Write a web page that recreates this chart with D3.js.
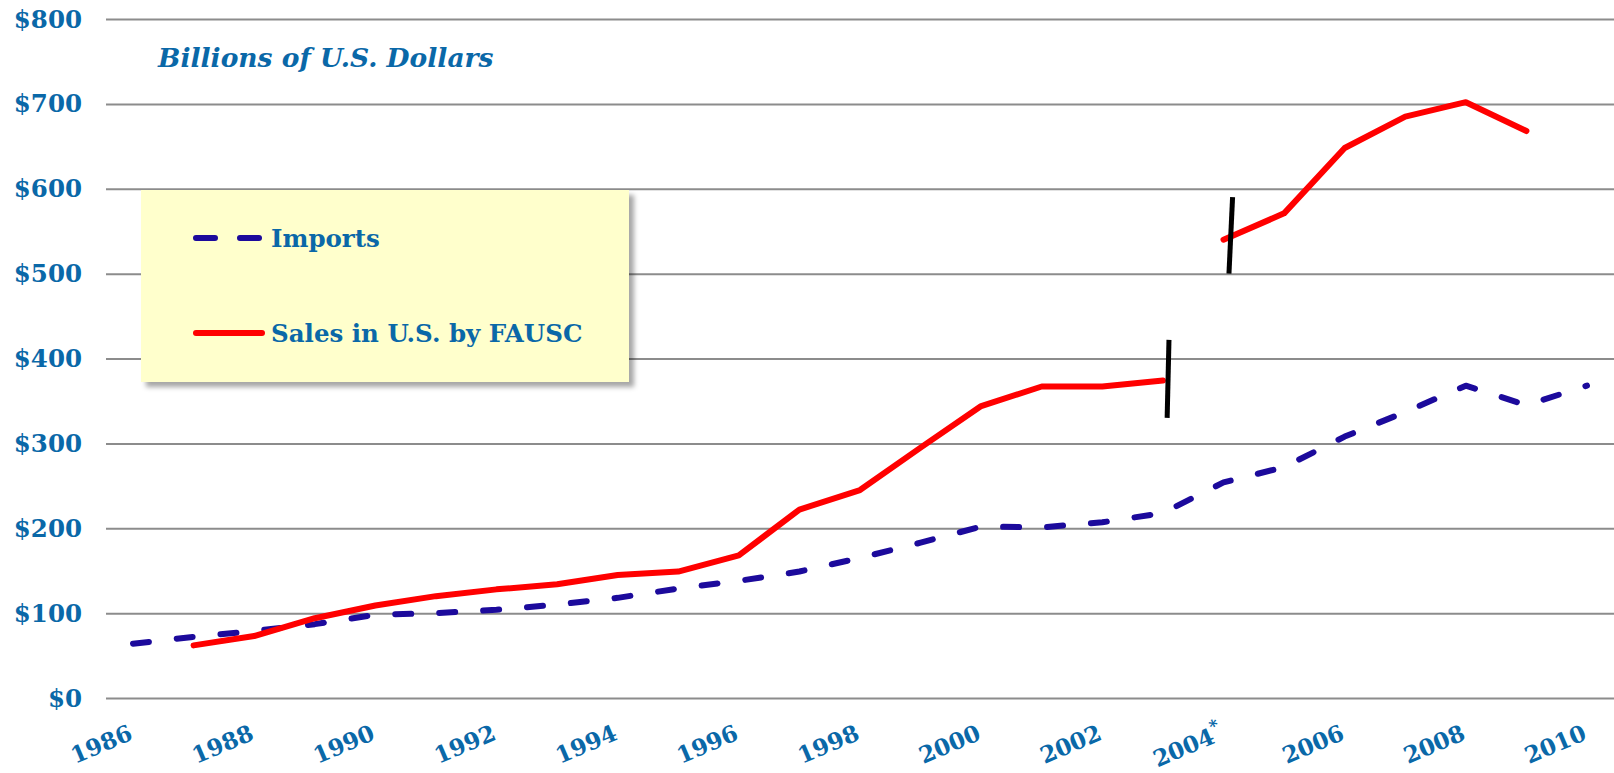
<!DOCTYPE html>
<html>
<head>
<meta charset="utf-8">
<script src="https://cdn.jsdelivr.net/npm/d3@7"></script>
<style>
  html, body { margin: 0; padding: 0; background: #fff; }
  svg { display: block; }
  .lbl { font-family: Georgia, "DejaVu Serif", serif; font-weight: bold; fill: #0a68a8; }
</style>
</head>
<body>
<svg id="chart"></svg>
<script>
// years on the category axis
const years = d3.range(1986, 2011);
const yearLabels = ["1986", "1988", "1990", "1992", "1994", "1996", "1998", "2000", "2002", "2004*", "2006", "2008", "2010"];
const yTicks = [0, 100, 200, 300, 400, 500, 600, 700, 800];

// Imports, billions of U.S. dollars
const imports = [64, 72, 79, 87, 98, 100, 104, 110, 118, 129, 138, 149, 165, 183, 202, 201, 207, 218, 254, 272, 308, 337, 368, 345, 368];
// Sales in U.S. by FAUSC (no value for 1986 or 2010)
const sales = [null, 62, 73, 94, 109, 120, 128, 134, 145, 149, 168, 222, 245, 295, 344, 367, 367, 374, 540, 571, 648, 685, 702, 668, null];
// the sales series is broken after this year (new data basis from 2004)
const salesBreakAfter = 2003;

// hand-drawn break marks: [year, value] at bottom and top
const breakMarks = [
  [[2003.07, 330], [2003.10, 422]],
  [[2004.09, 500], [2004.15, 590]]
];

const legendItems = [
  { name: "Imports", color: "#1c0a9c", dash: "19 25" },
  { name: "Sales in U.S. by FAUSC", color: "#ff0000", dash: null }
];

const W = 1614, H = 773;
const svg = d3.select("#chart").attr("width", W).attr("height", H);

const x = d3.scaleLinear().domain([1986, 2010]).range([133, 1587]);
const y = d3.scaleLinear().domain([0, 800]).range([698, 19]);

// defs: legend shadow
const defs = svg.append("defs");
const f = defs.append("filter").attr("id", "shadow").attr("x", "-5%").attr("y", "-5%").attr("width", "115%").attr("height", "125%");
f.append("feDropShadow").attr("dx", 5).attr("dy", 5).attr("stdDeviation", 2.5)
  .attr("flood-color", "#000").attr("flood-opacity", 0.35);

// gridlines
svg.append("g")
  .attr("class", "grid")
  .attr("transform", "translate(106,0)")
  .call(d3.axisLeft(y).tickValues(yTicks).tickSize(-(W - 106)).tickFormat(""))
  .call(g => g.select(".domain").remove())
  .selectAll("line")
  .attr("stroke", "#8c8c8c")
  .attr("stroke-width", 2);

// y labels
svg.append("g")
  .selectAll("text")
  .data(yTicks)
  .join("text")
  .attr("class", "lbl")
  .attr("x", 82)
  .attr("y", d => y(d))
  .attr("dy", "0.35em")
  .attr("text-anchor", "end")
  .style("font-size", "24.5px")
  .text(d => "$" + d);

// x labels, rotated
svg.append("g")
  .selectAll("text")
  .data(yearLabels)
  .join("text")
  .attr("class", "lbl")
  .attr("text-anchor", "end")
  .attr("transform", d => `translate(${x(parseInt(d)) + 1},739) rotate(-23)`)
  .style("font-size", "23px")
  .each(function (d) {
    const t = d3.select(this);
    if (d.endsWith("*")) {
      t.append("tspan").text(d.slice(0, -1));
      t.append("tspan").attr("dy", "-0.6em").style("font-size", "17px").text("*");
    } else {
      t.text(d);
    }
  });

// title
svg.append("text")
  .attr("class", "lbl")
  .attr("x", 158)
  .attr("y", 67)
  .style("font-size", "26.5px")
  .style("font-style", "italic")
  .text("Billions of U.S. Dollars");

// series
const line = d3.line()
  .defined(d => d[1] != null)
  .x(d => x(d[0]))
  .y(d => y(d[1]));

svg.append("path")
  .datum(years.map((yr, i) => [yr, imports[i]]))
  .attr("d", line)
  .attr("fill", "none")
  .attr("stroke", legendItems[0].color)
  .attr("stroke-width", 6)
  .attr("stroke-linecap", "round")
  .attr("stroke-linejoin", "round")
  .attr("stroke-dasharray", "16 28");

const salesPts = years.map((yr, i) => [yr, sales[i]]);
const salesParts = [
  salesPts.filter(d => d[0] <= salesBreakAfter),
  salesPts.filter(d => d[0] > salesBreakAfter)
];
svg.append("g")
  .selectAll("path")
  .data(salesParts)
  .join("path")
  .attr("d", line)
  .attr("fill", "none")
  .attr("stroke", legendItems[1].color)
  .attr("stroke-width", 6)
  .attr("stroke-linecap", "round")
  .attr("stroke-linejoin", "round");

// break marks
svg.append("g")
  .selectAll("line")
  .data(breakMarks)
  .join("line")
  .attr("x1", d => x(d[0][0]))
  .attr("y1", d => y(d[0][1]))
  .attr("x2", d => x(d[1][0]))
  .attr("y2", d => y(d[1][1]))
  .attr("stroke", "#000")
  .attr("stroke-width", 5);

// legend
const legend = svg.append("g");
legend.append("rect")
  .attr("x", 141).attr("y", 190)
  .attr("width", 488).attr("height", 192)
  .attr("fill", "#ffffcc")
  .attr("filter", "url(#shadow)");

const li = legend.selectAll("g.item")
  .data(legendItems)
  .join("g")
  .attr("class", "item")
  .attr("transform", (d, i) => `translate(0,${238 + i * 95})`);

li.append("line")
  .attr("x1", 196).attr("x2", 262)
  .attr("y1", 0).attr("y2", 0)
  .attr("stroke", d => d.color)
  .attr("stroke-width", 6)
  .attr("stroke-linecap", "round")
  .attr("stroke-dasharray", d => d.dash);

li.append("text")
  .attr("class", "lbl")
  .attr("x", 271)
  .attr("y", 9)
  .style("font-size", "24.5px")
  .text(d => d.name);
</script>
</body>
</html>
